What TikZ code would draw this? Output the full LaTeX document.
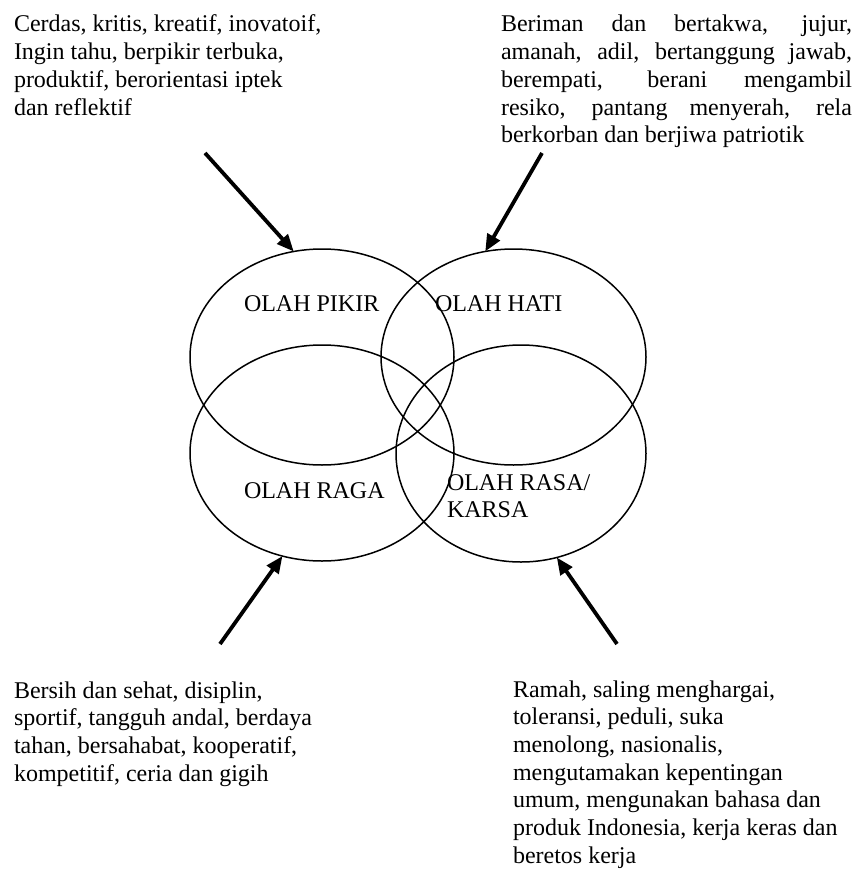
\documentclass[tikz,border=0pt]{standalone}
\usepackage{fontspec}
\setmainfont{Liberation Serif}
\usetikzlibrary{shapes.geometric,arrows.meta}

\begin{document}
\begin{tikzpicture}[x=1pt,y=-1pt,
  every node/.style={font=\fontsize{24}{27.7}\selectfont, inner sep=0pt, outer sep=0pt},
  ring/.style={draw, ellipse, line width=1.5pt},
  % natural (stretchable) interword spacing inside the text blocks
  caption/.style={anchor=base west, align=left, text width=#1,
    execute at begin node={\spaceskip=0pt\xspaceskip=0pt}},
  caption/.default=340pt,
  ringtitle/.style={anchor=base west},
  pointer/.style={line width=3.8pt, -{Triangle[length=17pt,width=14pt]}}
]
\useasboundingbox (0,0) rectangle (857,869);

% the four overlapping ellipses
\node[ring, minimum width=264pt, minimum height=216pt] (pikir) at (322,357) {};
\node[ring, minimum width=265pt, minimum height=216pt] (hati)  at (513.5,357) {};
\node[ring, minimum width=264pt, minimum height=216pt] (raga)  at (322,453) {};
\node[ring, minimum width=250pt, minimum height=217pt] (rasa)  at (521,453.5) {};

% ellipse titles
\node[ringtitle] (tpikir) at (244,311) {OLAH PIKIR};
\node[ringtitle] (thati)  at (435,311) {OLAH HATI};
\node[ringtitle] (traga)  at (244,498) {OLAH RAGA};
\node[ringtitle] (trasa1) at (447,490) {OLAH RASA/};
\node[ringtitle] (trasa2) at (447,517) {KARSA};

% descriptive texts (placed by the baseline of their first line)
\node[caption] (dpikir) at (14,32) {Cerdas, kritis, kreatif, inovatoif,\\
Ingin tahu, berpikir terbuka,\\
produktif, berorientasi iptek\\
dan reflektif};

\node[caption=351pt] (dhati) at (501,32) {\makebox[351pt][s]{Beriman dan bertakwa, jujur,}\\
\makebox[351pt][s]{amanah, adil, bertanggung jawab,}\\
\makebox[351pt][s]{berempati, berani mengambil}\\
\makebox[351pt][s]{resiko, pantang menyerah, rela}\\
berkorban dan berjiwa patriotik};

\node[caption] (draga) at (14,698) {Bersih dan sehat, disiplin,\\
sportif, tangguh andal, berdaya\\
tahan, bersahabat, kooperatif,\\
kompetitif, ceria dan gigih};

\node[caption] (drasa) at (513,697) {Ramah, saling menghargai,\\
toleransi, peduli, suka\\
menolong, nasionalis,\\
mengutamakan kepentingan\\
umum, mengunakan bahasa dan\\
produk Indonesia, kerja keras dan\\
beretos kerja};

% arrow tails
\coordinate (spikir) at (205,153);
\coordinate (shati)  at (542,153);
\coordinate (sraga)  at (220,644);
\coordinate (srasa)  at (617,644);

% arrows into the ellipses
\draw[pointer] (spikir) -- (pikir.105);
\draw[pointer] (shati)  -- (hati.105);
\draw[pointer] (sraga)  -- (raga.-111);
\draw[pointer] (srasa)  -- (rasa.-71);
\end{tikzpicture}
\end{document}
